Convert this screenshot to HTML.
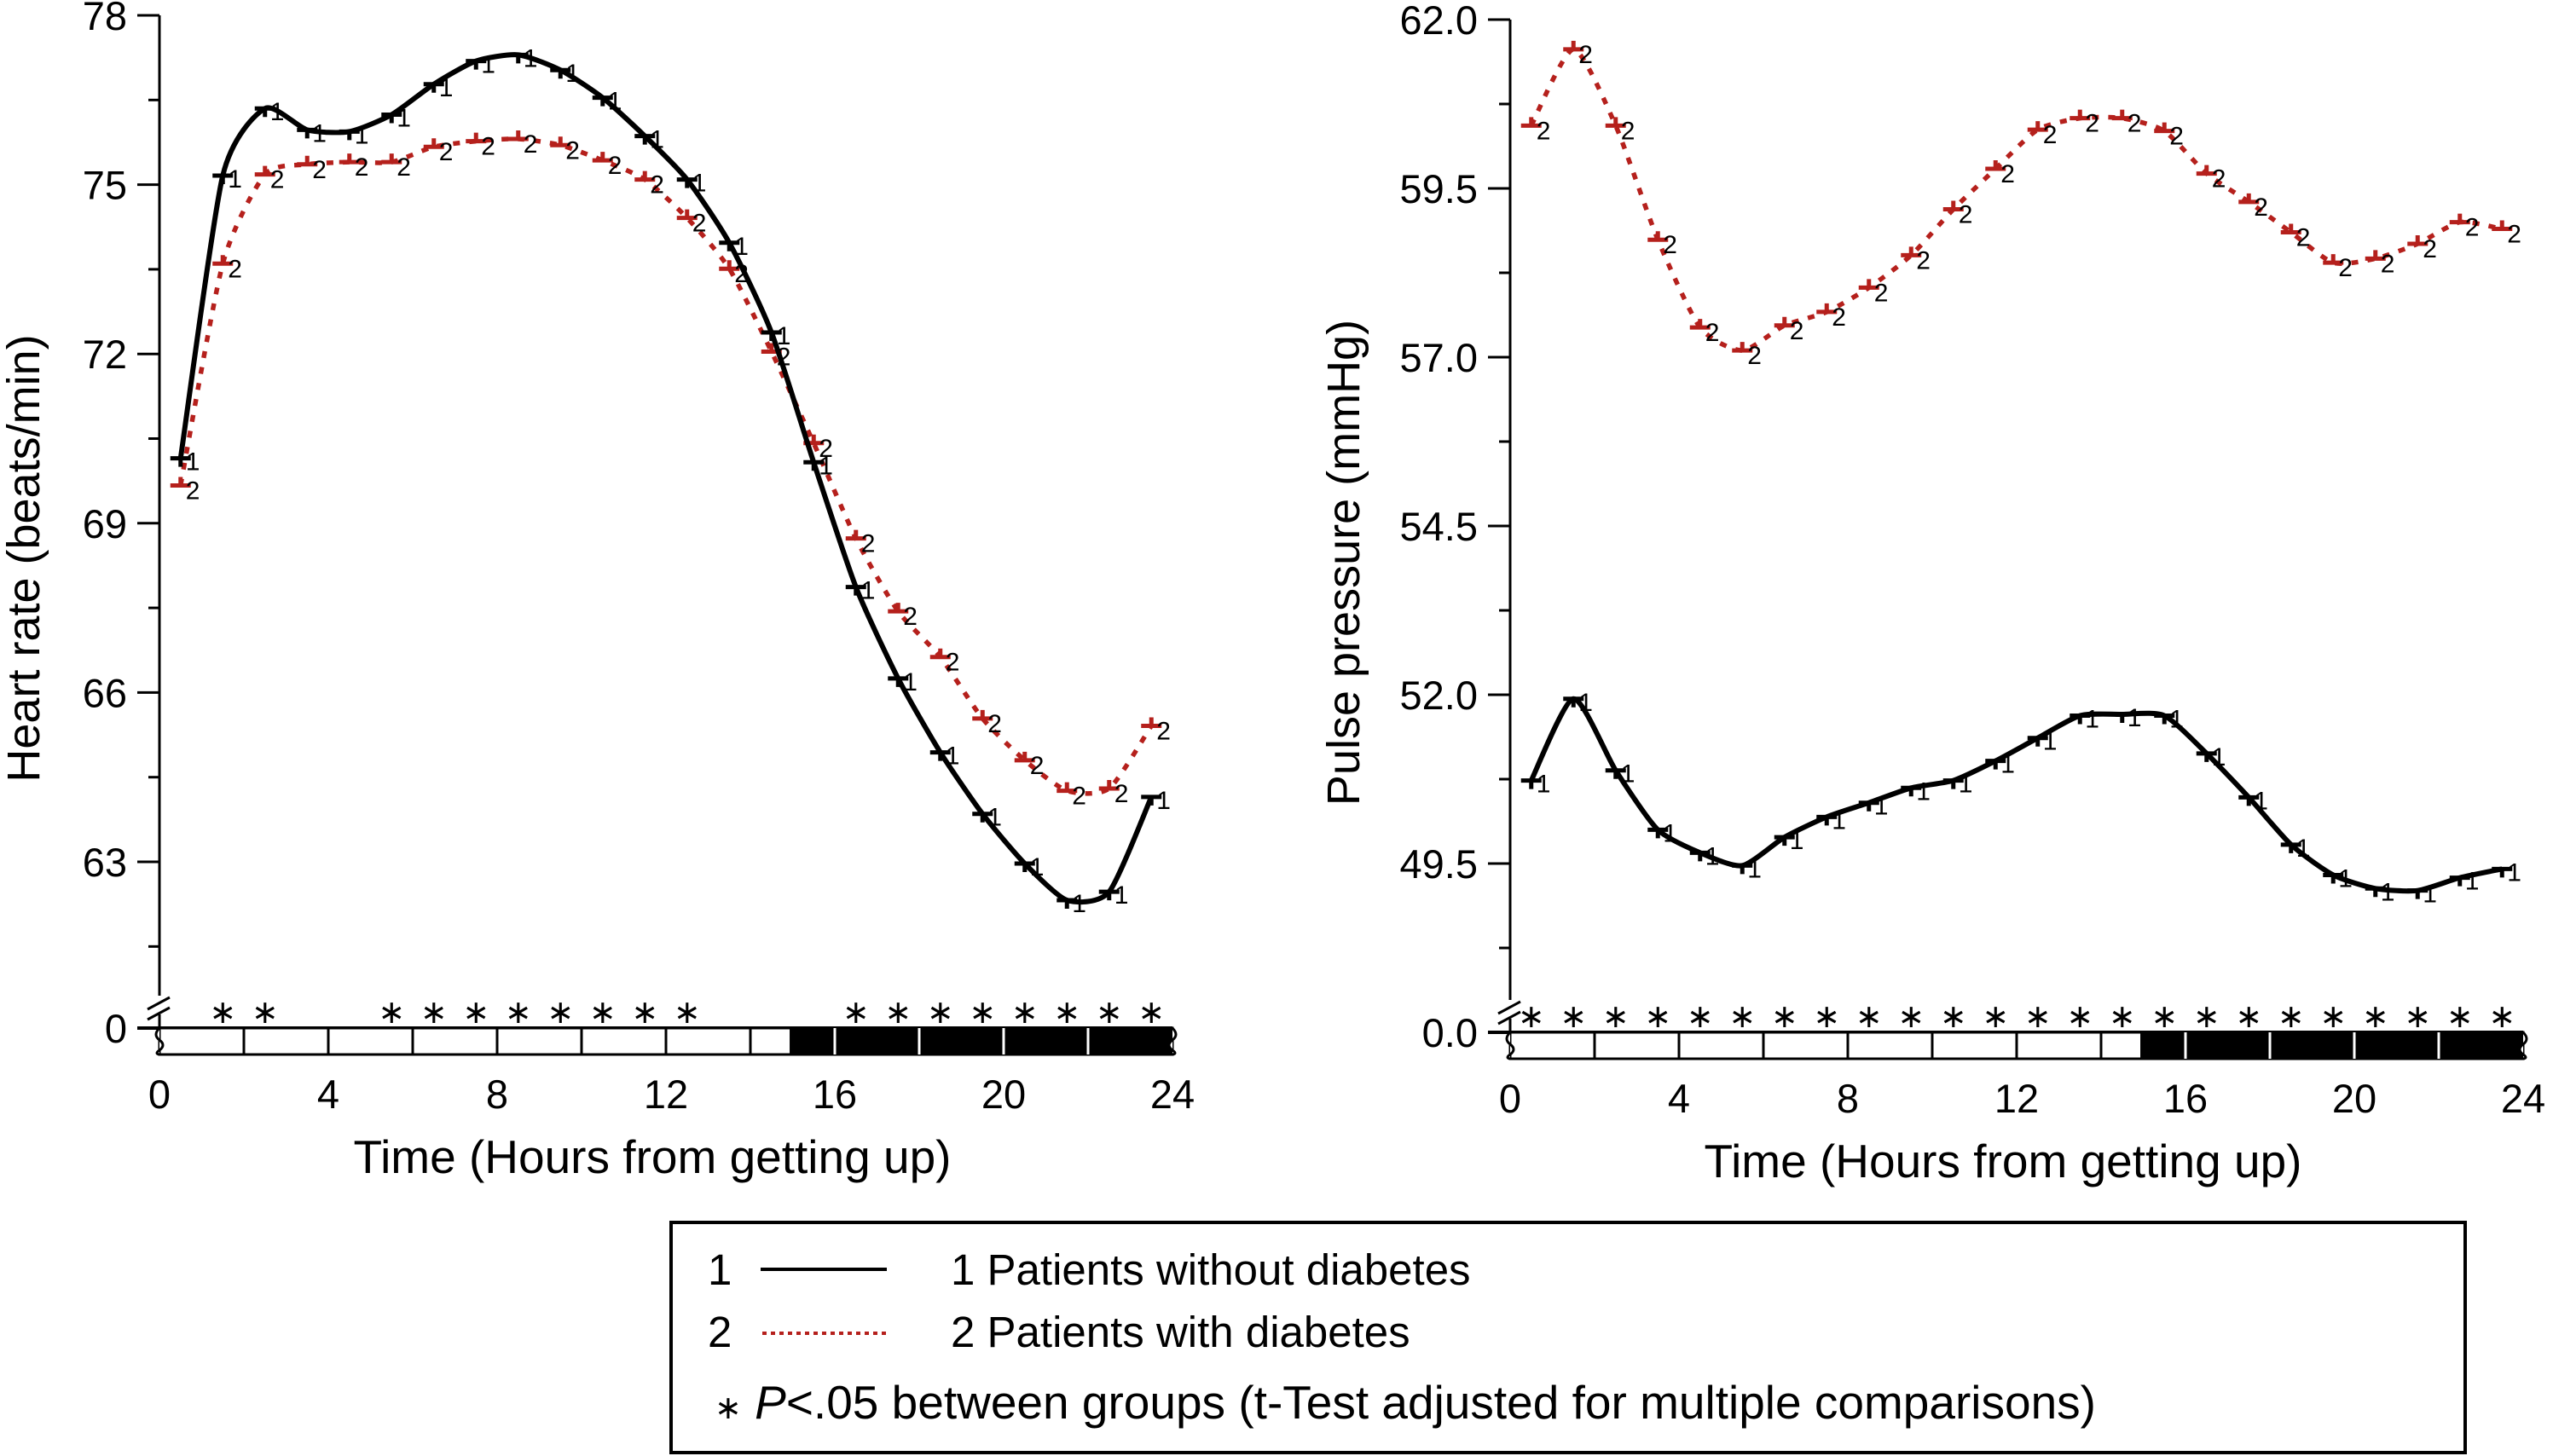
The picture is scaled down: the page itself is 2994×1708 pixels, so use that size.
<!DOCTYPE html>
<html><head><meta charset="utf-8"><style>
html,body{margin:0;padding:0;background:#fff}
svg{display:block}
text{font-family:"Liberation Sans",sans-serif;fill:#000}
</style></head><body>
<svg id="chart" width="2994" height="1708" viewBox="0 0 2994 1708" xmlns="http://www.w3.org/2000/svg">
<g id="left"></g>
<g id="right"></g>
<g id="legend">
  <rect x="787" y="1434" width="2104" height="270" fill="none" stroke="#000" stroke-width="4"/>
  <text x="830" y="1507" font-size="51">1</text>
  <line x1="892" y1="1489" x2="1040" y2="1489" stroke="#000" stroke-width="4"/>
  <text x="1115" y="1507" font-size="51">1 Patients without diabetes</text>
  <text x="830" y="1580" font-size="51">2</text>
  <line x1="894" y1="1564" x2="1040" y2="1564" stroke="#b5201c" stroke-width="4" stroke-dasharray="5 5"/>
  <text x="1115" y="1580" font-size="51">2 Patients with diabetes</text>
  <text x="838" y="1664" font-size="55"><tspan font-size="38">∗</tspan> <tspan font-style="italic">P</tspan>&lt;.05 between groups (t-Test adjusted for multiple comparisons)</text>
</g>
</svg>
<script>
const hours = [0.5,1.5,2.5,3.5,4.5,5.5,6.5,7.5,8.5,9.5,10.5,11.5,12.5,13.5,14.5,15.5,16.5,17.5,18.5,19.5,20.5,21.5,22.5,23.5];
const hrNoDiabetes = [70.15,75.16,76.35,75.97,75.94,76.24,76.78,77.19,77.30,77.03,76.54,75.86,75.09,73.97,72.38,70.08,67.87,66.25,64.94,63.85,62.97,62.32,62.47,64.15];
const hrDiabetes = [69.67,73.6,75.18,75.36,75.4,75.4,75.67,75.77,75.81,75.7,75.43,75.09,74.41,73.51,72.04,70.42,68.73,67.44,66.63,65.54,64.8,64.26,64.3,65.41];
const ppNoDiabetes = [50.73,51.94,50.88,50.0,49.66,49.47,49.89,50.19,50.4,50.62,50.73,51.02,51.36,51.69,51.71,51.69,51.13,50.48,49.78,49.33,49.13,49.10,49.29,49.42];
const ppDiabetes = [60.43,61.56,60.43,58.74,57.44,57.1,57.47,57.67,58.03,58.51,59.19,59.79,60.37,60.54,60.54,60.35,59.72,59.3,58.85,58.4,58.46,58.68,59.0,58.9];
const hrTicks = [63,66,69,72,75,78];
const ppTicks = [49.5,52.0,54.5,57.0,59.5,62.0];
const xTicks = [0,4,8,12,16,20,24];
const hrSignificant = [1.5,2.5,5.5,6.5,7.5,8.5,9.5,10.5,11.5,12.5,16.5,17.5,18.5,19.5,20.5,21.5,22.5,23.5];
const ppSignificant = [0.5,1.5,2.5,3.5,4.5,5.5,6.5,7.5,8.5,9.5,10.5,11.5,12.5,13.5,14.5,15.5,16.5,17.5,18.5,19.5,20.5,21.5,22.5,23.5];

const NS='http://www.w3.org/2000/svg';
function mk(parent,tag,attrs,txt){const e=document.createElementNS(NS,tag);for(const k in attrs)e.setAttribute(k,attrs[k]);if(txt!==undefined)e.textContent=txt;parent.appendChild(e);return e;}
function smooth(pts){const k=9;let d='M'+pts[0][0]+','+pts[0][1];for(let i=0;i<pts.length-1;i++){const p0=pts[i-1]||pts[i],p1=pts[i],p2=pts[i+1],p3=pts[i+2]||p2;const c1=[p1[0]+(p2[0]-p0[0])/k,p1[1]+(p2[1]-p0[1])/k],c2=[p2[0]-(p3[0]-p1[0])/k,p2[1]-(p3[1]-p1[1])/k];d+=' C'+c1[0]+','+c1[1]+' '+c2[0]+','+c2[1]+' '+p2[0]+','+p2[1];}return d;}

function panel(g,cfg){
  const X=h=>cfg.x0+h*49.5, Y=v=>cfg.yTop+(cfg.vMax-v)*cfg.pxPer;
  const ax=cfg.x0, barTop=cfg.barTop;
  let e=mk(g,'line',{x1:ax,y1:Y(cfg.vMax),x2:ax,y2:barTop-38,stroke:'#000','stroke-width':3});
  
  e=mk(g,'path',{d:`M${ax-14},${barTop-22} l26,-14 M${ax-14},${barTop-10} l26,-14`,stroke:'#000','stroke-width':3,fill:'none'});
  
  e=mk(g,'line',{x1:ax,y1:barTop-16,x2:ax,y2:barTop,stroke:'#000','stroke-width':3});
  const step=cfg.ticks[1]-cfg.ticks[0];
  cfg.ticks.forEach((t,i)=>{
    const y=Y(t);
    const tl=mk(g,'line',{x1:ax-26,y1:y,x2:ax,y2:y,stroke:'#000','stroke-width':3});
    
    const lb=mk(g,'text',{x:ax-38,y:y+17,'font-size':47,'text-anchor':'end'},cfg.fmt(t));
    
    if(i>0){const m=Y(t-step/2);const ml=mk(g,'line',{x1:ax-13,y1:m,x2:ax,y2:m,stroke:'#000','stroke-width':3});
      }
  });
  const m0=Y(cfg.ticks[0]-step/2);mk(g,'line',{x1:ax-13,y1:m0,x2:ax,y2:m0,stroke:'#000','stroke-width':3});
  let z=mk(g,'text',{x:ax-38,y:barTop+17,'font-size':47,'text-anchor':'end'},cfg.zero);
  
  mk(g,'line',{x1:ax-26,y1:barTop,x2:X(24),y2:barTop,stroke:'#000','stroke-width':4});
  e=mk(g,'rect',{x:ax,y:barTop,width:X(24)-ax,height:31,fill:'#fff',stroke:'#000','stroke-width':3});
  
  e=mk(g,'rect',{x:X(14.93),y:barTop,width:X(24)-X(14.93),height:31,fill:'#000'});
  
  for(let h=2;h<24;h+=2){mk(g,'line',{x1:X(h),y1:barTop,x2:X(h),y2:barTop+31,stroke:h>15?'#fff':'#000','stroke-width':3});}
  mk(g,'path',{d:`M${ax},${barTop} q-8,8 0,14 q8,6 0,12 q-6,4 0,5`,stroke:'#000','stroke-width':3,fill:'#fff'});
  mk(g,'path',{d:`M${X(24)},${barTop} q8,8 0,14 q-8,6 0,12 q6,4 0,5`,stroke:'#000','stroke-width':3,fill:'#fff'});
  xTicks.forEach(t=>{const l=mk(g,'text',{x:X(t),y:cfg.barTop+94,'font-size':47,'text-anchor':'middle'},String(t));
    });
  let xt=mk(g,'text',{x:(ax+X(24))/2-16,y:cfg.barTop+170,'font-size':55,'text-anchor':'middle'},'Time (Hours from getting up)');
  
  let yt=mk(g,'text',{x:0,y:0,'font-size':54,'text-anchor':'middle',transform:`translate(${cfg.ytX},${cfg.ytY}) rotate(-90)`},cfg.yTitle);
  
  cfg.sig.forEach(h=>{const s=mk(g,'text',{x:X(h),y:barTop-6,'font-size':38,'text-anchor':'middle',fill:'#444'},'∗');
    });
  [[cfg.s2,'#b5201c',true,'2'],[cfg.s1,'#000',false,'1']].forEach(([vals,col,dash,lab])=>{
    const pts=hours.map((h,i)=>[X(h),Y(vals[i])]);
    const p=mk(g,'path',{d:smooth(pts),fill:'none',stroke:col,'stroke-width':dash?5.5:6});
    if(dash){p.setAttribute('stroke-dasharray','8 11');}
    
    
    hours.forEach((h,i)=>{const x=X(h),y=Y(vals[i]);
      const c=mk(g,'path',{d:`M${x-12},${y} h24 M${x},${y} v${dash?-10:10}`,stroke:col,'stroke-width':5,fill:'none'});
      
      const t=mk(g,'text',{x:x+6,y:y+(dash?16:14),'font-size':30,fill:col,'font-family':'Liberation Serif'},lab);
      
    });
  });
}
panel(document.getElementById('left'),{x0:187,yTop:18,vMax:78,pxPer:66.2,barTop:1206,ticks:hrTicks,fmt:t=>String(t),zero:'0',
  yTitle:'Heart rate (beats/min)',ytX:46,ytY:655,sig:hrSignificant,s1:hrNoDiabetes,s2:hrDiabetes});
panel(document.getElementById('right'),{x0:1771,yTop:23,vMax:62,pxPer:79.2,barTop:1211,ticks:ppTicks,fmt:t=>t.toFixed(1),zero:'0.0',
  yTitle:'Pulse pressure (mmHg)',ytX:1594,ytY:660,sig:ppSignificant,s1:ppNoDiabetes,s2:ppDiabetes});
</script>
</body></html>
